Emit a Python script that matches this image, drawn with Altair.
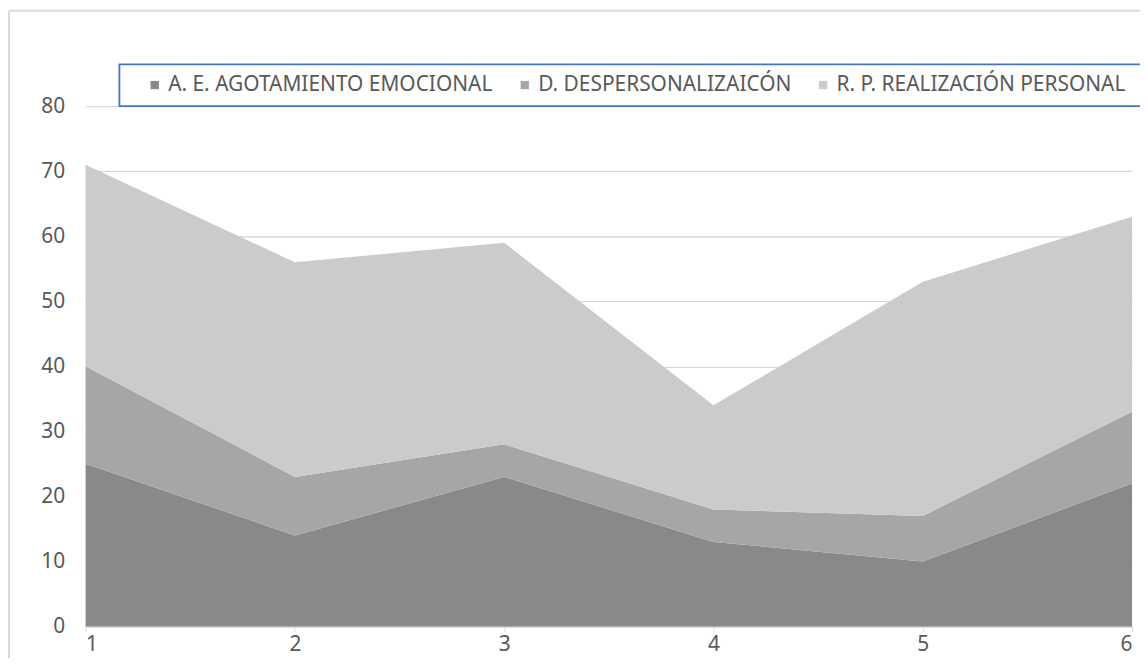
import altair as alt
import pandas as pd

x_values = [1, 2, 3, 4, 5, 6]
series_names = ["A. E. AGOTAMIENTO EMOCIONAL", "D. DESPERSONALIZAICÓN", "R. P. REALIZACIÓN PERSONAL"]
ae_values = [25, 14, 23, 13, 10, 22]
d_values = [15, 9, 5, 5, 7, 11]
rp_values = [31, 33, 31, 16, 36, 30]
series_colors = ["#898989", "#a6a6a6", "#cbcbcb"]

rows = []
for idx, (name, vals) in enumerate(zip(series_names, [ae_values, d_values, rp_values])):
    for xv, v in zip(x_values, vals):
        rows.append({"x": xv, "value": v, "serie": name, "idx": idx})
df = pd.DataFrame(rows)
one = pd.DataFrame({"k": [0]})

W, H = 1052, 523

areas = alt.Chart(df).mark_area(opacity=1, line=False).encode(
    x=alt.X("x:Q", scale=alt.Scale(domain=[1, 6], nice=False, zero=False),
            axis=alt.Axis(values=x_values, format="d", title=None, grid=False,
                          domainColor="#d9d9d9", domainWidth=1.5, tickColor="#d9d9d9", tickSize=5,
                          labelColor="#595959", labelFontSize=21, labelPadding=2,
                          labelFont="Noto Sans")),
    y=alt.Y("value:Q", stack="zero", scale=alt.Scale(domain=[0, 80], nice=False),
            axis=alt.Axis(values=list(range(0, 81, 10)), title=None, domain=False, ticks=False,
                          gridColor="#d9d9d9", gridWidth=1.3,
                          labelColor="#595959", labelFontSize=21, labelPadding=21,
                          labelFont="Noto Sans")),
    color=alt.Color("serie:N", scale=alt.Scale(domain=series_names, range=series_colors),
                    legend=alt.Legend(title=None, orient="none", legendX=34, legendY=-41,
                                      direction="horizontal", columns=3, symbolType="square",
                                      symbolSize=70, symbolStrokeWidth=0, symbolOffset=16,
                                      labelOffset=3,
                                      labelFontSize=21, labelFont="Noto Sans", labelColor="#595959",
                                      padding=9, columnPadding=5, labelLimit=500)),
    order=alt.Order("idx:Q", sort="ascending"),
)

legend_box = alt.Chart(one).mark_rect(fill="white", fillOpacity=0, stroke="#4472C4", strokeWidth=1.8).encode(
    x=alt.value(34), x2=alt.value(W + 40), y=alt.value(-42), y2=alt.value(0)
)

border_top = alt.Chart(one).mark_rule(color="#d9d9d9", strokeWidth=2).encode(
    x=alt.value(-77), x2=alt.value(W + 8), y=alt.value(-96)
)
border_left = alt.Chart(one).mark_rule(color="#d9d9d9", strokeWidth=2).encode(
    x=alt.value(-77), y=alt.value(-96), y2=alt.value(H + 40)
)

chart = alt.layer(areas, legend_box, border_top, border_left).properties(
    width=W, height=H,
    autosize=alt.AutoSizeParams(type="none"),
    padding={"left": 78, "top": 97, "right": 8, "bottom": 30},
).configure_view(stroke=None, strokeWidth=0)

chart.save("out.html", embed_options={"renderer": "svg", "actions": False})
